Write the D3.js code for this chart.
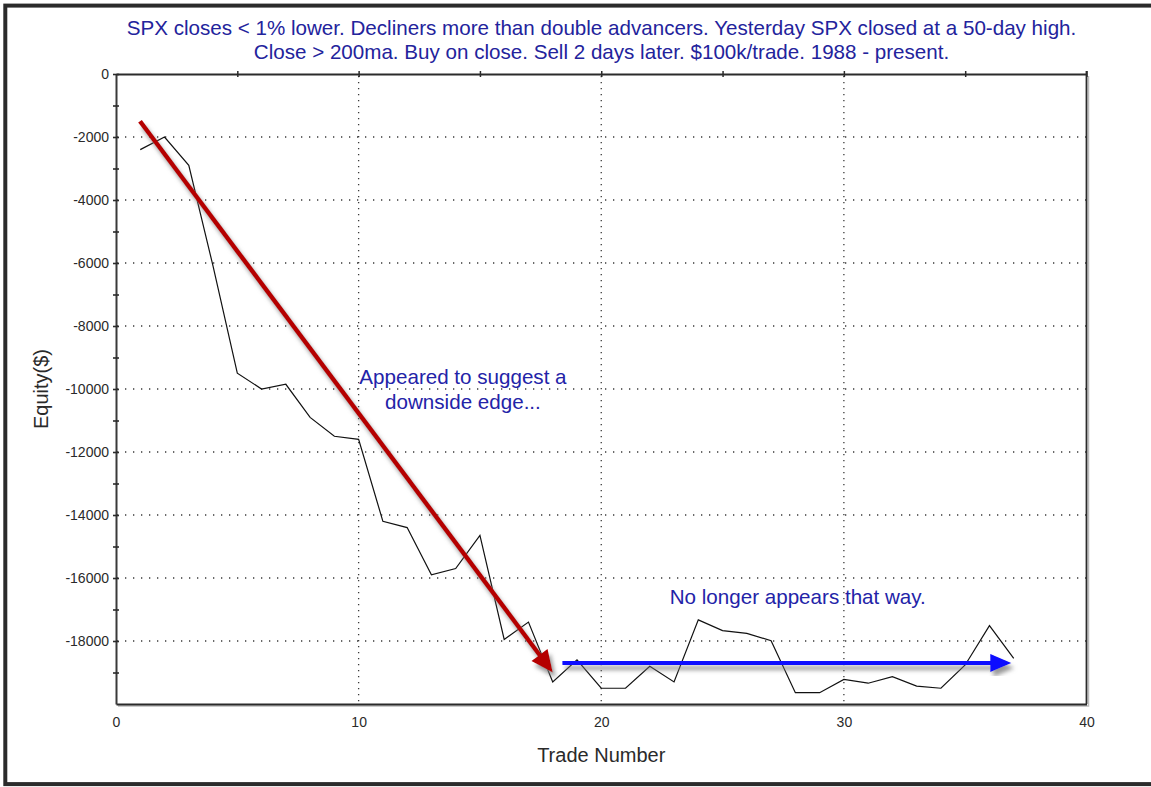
<!DOCTYPE html>
<html>
<head>
<meta charset="utf-8">
<script src="https://cdn.jsdelivr.net/npm/d3@7"></script>
<style>
  html, body { margin: 0; padding: 0; background: #fff; }
  svg { display: block; font-family: "Liberation Sans", Arial, sans-serif; }
</style>
</head>
<body>
<svg id="chart" width="1151" height="787"></svg>
<script>
// ---- data ----
const trades = d3.range(1, 38);
const equity = [-2400, -2000, -2900, -6100, -9500, -10000, -9850, -10900, -11500, -11600,
  -14200, -14400, -15900, -15700, -14650, -17950, -17400, -19300, -18600, -19500,
  -19500, -18800, -19300, -17330, -17670, -17760, -17990, -19640, -19640, -19220,
  -19340, -19130, -19430, -19500, -18760, -17510, -18550];
const xTickLabels = [0, 10, 20, 30, 40];
const xGridValues = [10, 20, 30];
const xTopTicks = [5, 10, 15, 20, 25, 30, 35, 40];
const yTickValues = d3.range(0, -20000, -1000);
const yLabelValues = d3.range(0, -20000, -2000);
const titleLines = [
  "SPX closes < 1% lower. Decliners more than double advancers. Yesterday SPX closed at a 50-day high.",
  "Close > 200ma. Buy on close. Sell 2 days later. $100k/trade. 1988 - present."
];
const xLabel = "Trade Number";
const yLabel = "Equity($)";
// annotation arrows in data units [trade, equity]
const redArrow = [[0.99, -1500], [18.0, -19000]];
const blueArrow = [[18.4, -18700], [36.9, -18700]];
const note1 = ["Appeared to suggest a", "downside edge..."];
const note1Pos = [14.3, -9850];
const note2 = "No longer appears that way.";
const note2Pos = [28.1, -16820];

// ---- layout ----
const svg = d3.select("#chart");
const L = 116, R = 1086.5, T = 74, B = 704;
const x = d3.scaleLinear().domain([0, 40]).range([L, R]);
const y = d3.scaleLinear().domain([-20000, 0]).range([B, T]);

svg.append("rect").attr("width", 1151).attr("height", 787).attr("fill", "#fff");

const defs = svg.append("defs");
const f = defs.append("filter").attr("id", "shadow").attr("x", "-10%").attr("y", "-10%").attr("width", "130%").attr("height", "130%");
f.append("feDropShadow").attr("dx", 3).attr("dy", 5).attr("stdDeviation", 2.2)
  .attr("flood-color", "#777").attr("flood-opacity", 0.75);

// outer border
svg.append("rect").attr("x", 5.3).attr("y", 5.6).attr("width", 1150).attr("height", 778.5)
  .attr("fill", "none").attr("stroke", "#2b2b2b").attr("stroke-width", 4);

// title
const title = svg.append("g").attr("fill", "#23239c").attr("font-size", 20.6).attr("text-anchor", "middle");
titleLines.forEach((t, i) => {
  title.append("text").attr("x", 601.5).attr("y", 35 + i * 24).text(t);
});

// gridlines
const grid = svg.append("g").attr("stroke", "#3a3a3a").attr("stroke-width", 1.3);
grid.selectAll("line.h").data(yLabelValues.filter(d => d !== 0)).join("line")
  .attr("x1", L + 1).attr("x2", R).attr("y1", d => y(d)).attr("y2", d => y(d))
  .attr("stroke-dasharray", "1.3 6.7");
grid.selectAll("line.v").data(xGridValues).join("line")
  .attr("x1", d => x(d)).attr("x2", d => x(d)).attr("y1", T + 2).attr("y2", B)
  .attr("stroke-dasharray", "1.3 4.7");

// frame shadow (right & bottom)
svg.append("path").attr("d", `M${R + 2},${T + 2} V${B + 2} H${L + 2}`)
  .attr("fill", "none").attr("stroke", "#bbb").attr("stroke-width", 1.5);
// right frame
svg.append("line").attr("x1", R).attr("x2", R).attr("y1", T - 3).attr("y2", B)
  .attr("stroke", "#2b2b2b").attr("stroke-width", 1.8);

// top axis (y = 0 line)
const topAxis = svg.append("g").attr("transform", `translate(0,${y(0)})`)
  .call(d3.axisTop(x).tickValues(xTopTicks).tickFormat("").tickSize(3).tickSizeOuter(0));
topAxis.select(".domain").attr("stroke", "#2b2b2b").attr("stroke-width", 1.8);
topAxis.selectAll(".tick line").attr("y2", -3).attr("y1", 3).attr("stroke", "#2b2b2b").attr("stroke-width", 1.5);

// bottom axis
const botAxis = svg.append("g").attr("transform", `translate(0,${B})`)
  .call(d3.axisBottom(x).tickValues(xTickLabels).tickFormat(d => String(d)).tickSize(0).tickPadding(13));
botAxis.select(".domain").attr("stroke", "#2b2b2b").attr("stroke-width", 2);
botAxis.selectAll("text").attr("font-size", 14).attr("fill", "#2a2a2a").attr("font-family", "'Liberation Sans', Arial, sans-serif");

// left axis
const leftAxis = svg.append("g").attr("transform", `translate(${L},0)`)
  .call(d3.axisLeft(y).tickValues(yTickValues)
    .tickFormat(d => yLabelValues.includes(d) ? String(d) : "")
    .tickSize(3).tickPadding(4).tickSizeOuter(0));
leftAxis.select(".domain").attr("stroke", "#3a3a3a").attr("stroke-width", 2);
leftAxis.selectAll(".tick line").attr("x1", 3).attr("x2", -3).attr("stroke", "#2b2b2b").attr("stroke-width", 1.6);
leftAxis.selectAll("text").attr("font-size", 14).attr("fill", "#2a2a2a").attr("font-family", "'Liberation Sans', Arial, sans-serif");

// axis titles
svg.append("text").attr("x", x(20)).attr("y", 762).attr("text-anchor", "middle")
  .attr("font-size", 20).attr("fill", "#2a2a2a").text(xLabel);
svg.append("text").attr("transform", `translate(48,${y(-10000)}) rotate(-90)`).attr("text-anchor", "middle")
  .attr("font-size", 20).attr("fill", "#2a2a2a").text(yLabel);

// equity line
const pts = trades.map((t, i) => [t, equity[i]]);
svg.append("path").datum(pts)
  .attr("d", d3.line().x(d => x(d[0])).y(d => y(d[1])))
  .attr("fill", "none").attr("stroke", "#111").attr("stroke-width", 1.2);

// arrows
function arrow(a, color, width, headLen, headW) {
  const x0 = x(a[0][0]), y0 = y(a[0][1]), x1 = x(a[1][0]), y1 = y(a[1][1]);
  const ang = Math.atan2(y1 - y0, x1 - x0);
  const bx = x1 - headLen * Math.cos(ang), by = y1 - headLen * Math.sin(ang);
  const px = -Math.sin(ang) * headW / 2, py = Math.cos(ang) * headW / 2;
  const g = svg.append("g").attr("filter", "url(#shadow)");
  g.append("line").attr("x1", x0).attr("y1", y0).attr("x2", bx + 2 * Math.cos(ang)).attr("y2", by + 2 * Math.sin(ang))
    .attr("stroke", color).attr("stroke-width", width);
  g.append("path").attr("d", `M${x1},${y1} L${bx + px},${by + py} L${bx - px},${by - py} Z`).attr("fill", color);
}
arrow(redArrow, "#b50303", 4.5, 22, 20);
arrow(blueArrow, "#0a0aff", 4, 21, 18);

// notes
const n1 = svg.append("text").attr("fill", "#2323a8").attr("font-size", 20.6).attr("text-anchor", "middle");
note1.forEach((t, i) => {
  n1.append("tspan").attr("x", x(note1Pos[0])).attr("y", y(note1Pos[1]) + i * 25).text(t);
});
svg.append("text").attr("x", x(note2Pos[0])).attr("y", y(note2Pos[1]))
  .attr("fill", "#2323a8").attr("font-size", 20.6).attr("text-anchor", "middle").text(note2);
</script>
</body>
</html>
